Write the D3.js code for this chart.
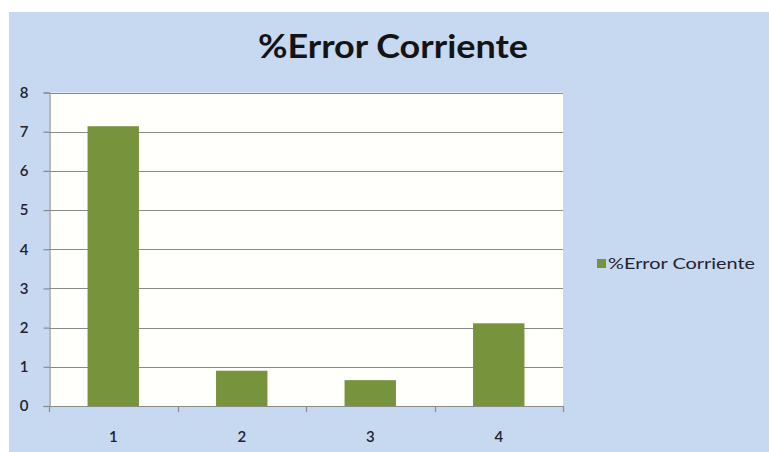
<!DOCTYPE html>
<html>
<head>
<meta charset="utf-8">
<script src="https://cdn.jsdelivr.net/npm/d3@7/dist/d3.min.js"></script>
<style>
  html, body { margin: 0; padding: 0; background: #ffffff; }
  svg { display: block; }
</style>
</head>
<body>
<svg id="chart" width="769" height="452"></svg>
<script>
// Series data
const categories = ["1", "2", "3", "4"];
const values = [7.14, 0.90, 0.66, 2.11];
const yTicks = [0, 1, 2, 3, 4, 5, 6, 7, 8];
const title = "%Error Corriente";
const seriesName = "%Error Corriente";

const W = 769, H = 452;
const plot = { left: 49, right: 563, top: 92.5, bottom: 406 };

const svg = d3.select("#chart");
const font = "Lato, 'Open Sans', sans-serif";

// Chart background
svg.append("rect")
  .attr("x", 9).attr("y", 12)
  .attr("width", W - 9).attr("height", H - 12)
  .attr("fill", "#c6d9f1");

// Plot area
svg.append("rect")
  .attr("x", plot.left).attr("y", plot.top)
  .attr("width", plot.right - plot.left).attr("height", plot.bottom - plot.top)
  .attr("fill", "#fffffc");

const x = d3.scaleBand()
  .domain(categories)
  .range([plot.left, plot.right])
  .paddingInner(0.6)
  .paddingOuter(0.3);

const xBoundary = d3.scaleLinear()
  .domain([0, categories.length])
  .range([plot.left, plot.right]);

const y = d3.scaleLinear()
  .domain([0, 8])
  .range([plot.bottom, plot.top]);

// Horizontal gridlines
svg.append("g")
  .selectAll("line")
  .data(yTicks.filter(d => d > 0))
  .join("line")
  .attr("x1", plot.left).attr("x2", plot.right)
  .attr("y1", d => Math.round(y(d)) + 0.5)
  .attr("y2", d => Math.round(y(d)) + 0.5)
  .attr("stroke", "#8a8a8a")
  .attr("stroke-width", 1.2);

// Bars
svg.append("g")
  .selectAll("rect")
  .data(values)
  .join("rect")
  .attr("x", (d, i) => x(categories[i]))
  .attr("width", x.bandwidth())
  .attr("y", d => y(d))
  .attr("height", d => y(0) - y(d))
  .attr("fill", "#77933c");

// Y axis
const yAxis = d3.axisLeft(y)
  .tickValues(yTicks)
  .tickSize(6)
  .tickPadding(15)
  .tickFormat(d3.format("d"));

const gy = svg.append("g")
  .attr("transform", `translate(${plot.left + 0.5},0)`)
  .call(yAxis);
gy.select(".domain").attr("stroke", "#8a8a8a").attr("stroke-width", 1.2);
gy.selectAll(".tick line").attr("stroke", "#8a8a8a").attr("stroke-width", 1.2);
gy.selectAll(".tick text")
  .attr("fill", "#1e2230")
  .style("font-family", font)
  .style("font-weight", "600")
  .style("font-size", "15px");

// X axis line and boundary ticks
const gx = svg.append("g");
gx.append("line")
  .attr("x1", plot.left).attr("x2", plot.right)
  .attr("y1", plot.bottom + 0.5).attr("y2", plot.bottom + 0.5)
  .attr("stroke", "#8a8a8a").attr("stroke-width", 1.2);
gx.selectAll("line.tk")
  .data(d3.range(categories.length + 1))
  .join("line")
  .attr("class", "tk")
  .attr("x1", d => Math.round(xBoundary(d)) + 0.5)
  .attr("x2", d => Math.round(xBoundary(d)) + 0.5)
  .attr("y1", plot.bottom)
  .attr("y2", plot.bottom + 6)
  .attr("stroke", "#8a8a8a").attr("stroke-width", 1.2);
gx.selectAll("text")
  .data(categories)
  .join("text")
  .attr("x", d => x(d) + x.bandwidth() / 2)
  .attr("y", 442)
  .attr("text-anchor", "middle")
  .attr("fill", "#1e2230")
  .style("font-family", font)
  .style("font-weight", "600")
  .style("font-size", "15px")
  .text(d => d);

// Title
svg.append("text")
  .attr("x", 393)
  .attr("y", 58)
  .attr("text-anchor", "middle")
  .attr("fill", "#141414")
  .attr("textLength", 270)
  .attr("lengthAdjust", "spacingAndGlyphs")
  .style("font-family", font)
  .style("font-weight", "bold")
  .style("font-size", "33px")
  .text(title);

// Legend
const lg = svg.append("g").attr("transform", "translate(597,259)");
lg.append("rect")
  .attr("width", 9).attr("height", 9)
  .attr("fill", "#77933c");
lg.append("text")
  .attr("x", 11)
  .attr("y", 10)
  .attr("fill", "#1e2230")
  .attr("textLength", 147)
  .attr("lengthAdjust", "spacingAndGlyphs")
  .style("font-family", font)
  .style("font-size", "15px")
  .text(seriesName);
</script>
</body>
</html>
